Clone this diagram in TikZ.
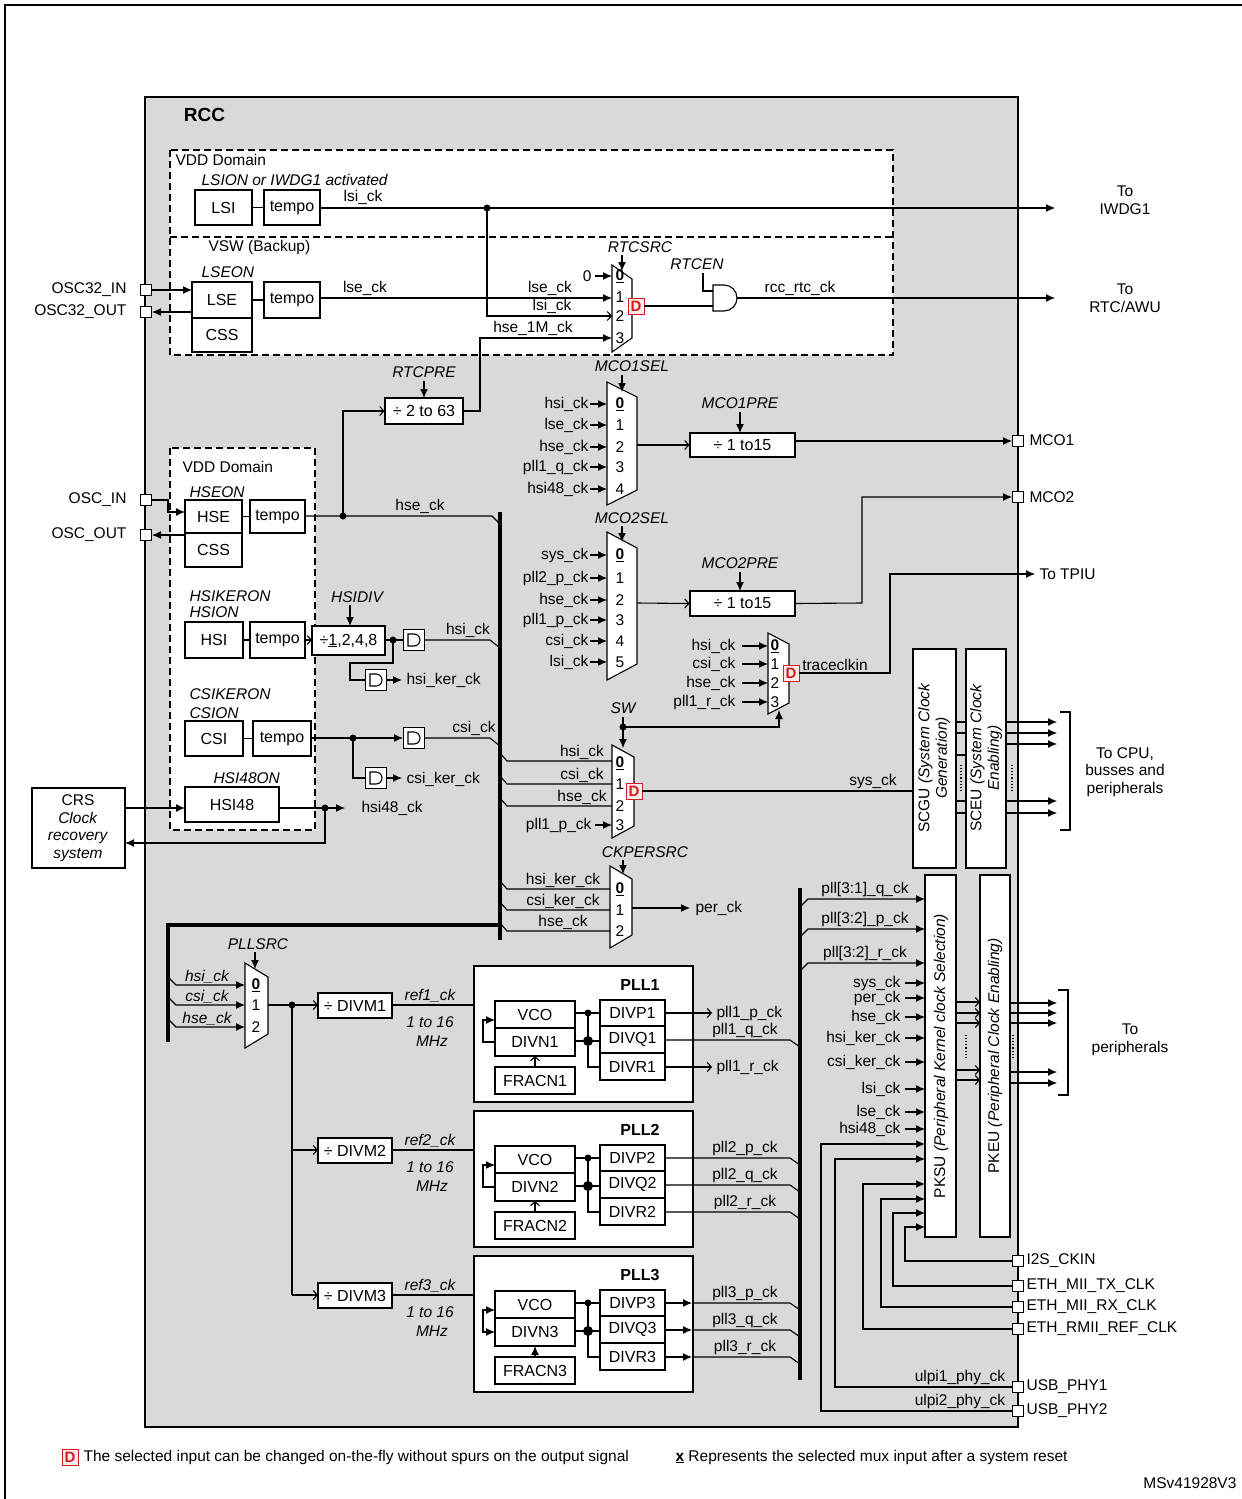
\documentclass[tikz,border=0pt]{standalone}
\usepackage{fontspec}
\setmainfont{Liberation Sans}
\usetikzlibrary{arrows.meta}
\definecolor{rccgray}{RGB}{217,217,217}
\definecolor{dred}{RGB}{210,30,30}
\newcommand\bx[6]{\node[bx,minimum width={(#4)-(#2)},minimum height={(#5)-(#3)}] (#1) at ({((#2)+(#4))/2},{((#3)+(#5))/2}) {#6};}
\newcommand\pinbox[3]{\node[draw,fill=white,minimum size=11pt,inner sep=0,line width=1pt] (#1) at (#2,#3) {};}
\newcommand\jdot[2]{\fill (#1,#2) circle (3.5);}
\newcommand\muxshape[5]{\draw[fill=white] (#1,#2)--({#1+#4},{#2+#5})--({#1+#4},{#3-#5})--(#1,#3)--cycle;}
\newcommand\gatesym[3]{\node[draw,fill=white,minimum size=21pt,inner sep=0] (#1) at (#2,#3) {};
 \draw ({#2-6},{#3-6})--(#2,{#3-6}) arc(-90:90:6)--({#2-6},{#3+6})--cycle;}
\newcommand\dbox[2]{\node[draw=dred,text=dred,fill=red!8,font=\fontsize{15}{15}\selectfont\bfseries,inner sep=0pt,minimum size=16pt,line width=1pt] at (#1,#2) {D};}
\begin{document}
\begin{tikzpicture}[x=1pt,y=-1pt,line width=1.1pt,
 bx/.style={draw,fill=white,inner sep=0,font=\fontsize{16}{18}\selectfont},
 lab/.style={font=\fontsize{15.5}{17.5}\selectfont,inner sep=1pt},
 ilab/.style={font=\fontsize{15.5}{17.5}\selectfont\itshape,inner sep=1pt},
 arr/.style={-{Latex[length=9pt,width=8pt]}},
 oarr/.style={-{Straight Barb[length=4pt,width=9pt]}},
 dsh/.style={dash pattern=on 7pt off 4pt},
 bus/.style={line width=4.5pt}]
\useasboundingbox (0,0) rectangle (1242,1499);
\fill[white] (0,0) rectangle (1242,1499);
\draw (5,1499)--(5,5)--(1242,5);
\draw[line width=2.5pt,fill=rccgray] (145,97) rectangle (1018,1427);
\node[font=\fontsize{19}{21}\selectfont\bfseries,anchor=west] (rcc) at (180,115) {RCC};
% ---------- top domains
\draw[dsh,fill=white] (170,150) rectangle (893,355);
\draw[dsh] (170,237)--(893,237);
\node[lab,anchor=west] (vdd1) at (174,160) {VDD Domain};
\node[ilab,anchor=west] (lsion) at (200,180) {LSION or IWDG1 activated};
\bx{lsi}{195}{190}{252}{225}{LSI}
\bx{tmp1}{264}{190}{320}{225}{tempo}
\draw (lsi)--(tmp1);
\coordinate (iwdg) at (1055,208);
\draw[arr] (320,208)--(iwdg);
\node[lab,anchor=south] (lsick1) at (363,206) {lsi\_ck};
\jdot{487}{208}
\node[lab,align=center] (toiwdg) at (1125,200) {To\\IWDG1};
\node[lab,anchor=west] (vsw) at (207,247) {VSW (Backup)};
\node[ilab,anchor=west] (lseon) at (200,272) {LSEON};
\bx{lse}{192}{282}{252}{318}{LSE}
\bx{css1}{192}{318}{252}{352}{CSS}
\bx{tmp2}{264}{282}{320}{318}{tempo}
\draw (lse)--(tmp2);
\pinbox{o32in}{146}{290}
\pinbox{o32out}{146}{312}
\node[lab,anchor=east] at (128,290) {OSC32\_IN};
\node[lab,anchor=east] at (128,312) {OSC32\_OUT};
\draw[arr] (o32in.east)--(192,290);
\draw[arr] (192,312)--(o32out.east);
% RTC mux
\muxshape{612}{265}{352}{20}{14}
\node[ilab] (rtcsrc) at (640,247) {RTCSRC};
\draw[arr] (622,255)--(622,271);
\node[lab] at (620,276) {\underline{\textbf{0}}};
\node[lab] at (620,297) {1};
\node[lab] at (620,316) {2};
\node[lab] at (620,338) {3};
\node[lab,anchor=east] at (593,276) {0};
\draw[arr] (595,276)--(612,276);
\draw[arr] (320,298)--(612,298);
\node[lab,anchor=south] at (365,297) {lse\_ck};
\node[lab,anchor=south] at (550,297) {lse\_ck};
\draw[oarr] (487,208)--(487,316)--(612,316);
\node[lab,anchor=south] at (552,315) {lsi\_ck};
\node[lab,anchor=south] at (533,337) {hse\_1M\_ck};
\dbox{636}{306}
\draw (644,306)--(713,306);
\node[ilab] (rtcen) at (697,264) {RTCEN};
\draw (703,273)--(703,291)--(713,291);
\draw[fill=white] (713,285)--(724,285) arc(-90:90:13)--(713,311)--cycle;
\coordinate (rtcawu) at (1055,298);
\draw[arr] (737,298)--(rtcawu);
\node[lab,anchor=south] at (800,297) {rcc\_rtc\_ck};
\node[lab,align=center] (tortc) at (1125,298) {To\\RTC/AWU};
% RTCPRE
\bx{div2}{385}{398}{463}{424}{÷ 2 to 63}
\node[ilab] at (424,372) {RTCPRE};
\draw[arr] (424,381)--(424,398);
\draw[arr] (div2.east)--(480,411)--(480,338)--(612,338);
\draw[oarr] (343,516)--(343,411)--(div2.west);
% MCO1
\node[ilab] at (632,366) {MCO1SEL};
\muxshape{607}{382}{505}{30}{15}
\draw[arr] (622,375)--(622,392);
\foreach \y/\t/\n in {404/hsi\_ck/\underline{\textbf{0}},425/lse\_ck/1,447/hse\_ck/2,467/pll1\_q\_ck/3,489/hsi48\_ck/4}{
 \node[lab,anchor=east] at (590,\y) {\t}; \draw[arr] (590,\y)--(607,\y); \node[lab] at (620,\y) {\n};}
\bx{pre1}{690}{433}{795}{457}{÷ 1 to15}
\draw[oarr] (637,445)--(pre1.west);
\node[ilab] at (740,403) {MCO1PRE};
\draw[arr] (740,412)--(740,433);
\pinbox{mco1}{1018}{441}
\draw[arr] (795,441)--(mco1.west);
\node[lab,anchor=west] at (1028,440) {MCO1};
% MCO2
\node[ilab] at (632,518) {MCO2SEL};
\muxshape{607}{532}{680}{30}{16}
\draw[arr] (622,526)--(622,542);
\foreach \y/\t/\n in {555/sys\_ck/\underline{\textbf{0}},578/pll2\_p\_ck/1,600/hse\_ck/2,620/pll1\_p\_ck/3,641/csi\_ck/4,662/lsi\_ck/5}{
 \node[lab,anchor=east] at (590,\y) {\t}; \draw[arr] (590,\y)--(607,\y); \node[lab] at (620,\y) {\n};}
\bx{pre2}{690}{591}{795}{616}{÷ 1 to15}
\draw[oarr] (637,603)--(pre2.west);
\node[ilab] at (740,563) {MCO2PRE};
\draw[arr] (740,572)--(740,591);
\pinbox{mco2}{1018}{497}
\draw[arr] (pre2.east)--(862,603)--(862,497)--(mco2.west);
\node[lab,anchor=west] at (1028,497) {MCO2};
% trace mux
\muxshape{768}{633}{714}{21}{11}
\foreach \y/\t/\n in {646/hsi\_ck/\underline{\textbf{0}},664/csi\_ck/1,683/hse\_ck/2,702/pll1\_r\_ck/3}{
 \node[lab,anchor=east] at (737,\y) {\t}; \draw[arr] (742,\y)--(768,\y); \node[lab] at (775,\y) {\n};}
\dbox{791}{673}
\node[lab,anchor=south] at (835,672) {traceclkin};
\coordinate (tpiu) at (1035,574);
\draw[arr] (799,673)--(890,673)--(890,574)--(tpiu);
\node[lab,anchor=west] at (1038,574) {To TPIU};
% SW mux
\node[ilab] at (623,708) {SW};
\draw (623,717)--(623,727);
\jdot{623}{727}
\draw[arr] (623,727)--(779,727)--(779,710);
\draw[arr] (623,727)--(623,748);
\muxshape{612}{745}{838}{22}{12}
\foreach \y/\t in {761/hsi\_ck,784/csi\_ck,806/hse\_ck}{
 \draw (500,\y-8)--(507,\y)--(612,\y); \node[lab,anchor=south] at (582,\y) {\t};}
\node[lab,anchor=east] at (593,825) {pll1\_p\_ck};
\draw[arr] (595,825)--(612,825);
\node[lab] at (620,763) {\underline{\textbf{0}}};
\node[lab] at (620,784) {1};
\node[lab] at (620,806) {2};
\node[lab] at (620,825) {3};
\dbox{634}{791}
\bx{scgu}{913}{649}{956}{868}{}
\bx{sceu}{966}{649}{1006}{868}{}
\node[rotate=90,align=center,lab] at (934,758) {SCGU \textit{(System Clock}\\\textit{Generation)}};
\node[rotate=90,align=center,lab] at (986,758) {SCEU \textit{(System Clock}\\\textit{Enabling)}};
\draw (642,791)--(scgu.west |- 0,791);
\node[lab,anchor=south] at (873,790) {sys\_ck};
\foreach \y in {722,733,755,801,813} \draw (956,\y)--(966,\y);
\draw[dotted] (961,765)--(961,792);
\draw[dotted] (1012,765)--(1012,792);
\foreach \y in {722,733,744,801,813} \draw[arr] (1006,\y)--(1057,\y);
\draw (1060,712)--(1070,712)--(1070,830)--(1060,830);
\node[lab,align=center] at (1125,772) {To CPU,\\busses and\\peripherals};
% CKPERSRC
\node[ilab] at (645,852) {CKPERSRC};
\draw[arr] (623,860)--(623,874);
\muxshape{610}{866}{948}{22}{13}
\foreach \y/\t/\n in {889/hsi\_ker\_ck/\underline{\textbf{0}},910/csi\_ker\_ck/1,931/hse\_ck/2}{
 \draw (500,\y-8)--(507,\y)--(610,\y); \node[lab,anchor=south] at (563,\y) {\t}; \node[lab] at (620,\y) {\n};}
\draw[arr] (632,908)--(690,908);
\node[lab,anchor=west] at (694,908) {per\_ck};
% HSE/HSI/CSI domain
\draw[dsh,fill=white] (170,448) rectangle (315,830);
\node[lab,anchor=west] at (181,467) {VDD Domain};
\node[ilab,anchor=west] at (188,492) {HSEON};
\bx{hse}{185}{500}{242}{533}{HSE}
\bx{css2}{185}{533}{242}{567}{CSS}
\bx{tmp3}{250}{500}{305}{533}{tempo}
\draw (hse)--(tmp3);
\pinbox{oscin}{146}{500}
\pinbox{oscout}{146}{535}
\node[lab,anchor=east] at (128,500) {OSC\_IN};
\node[lab,anchor=east] at (128,535) {OSC\_OUT};
\draw[arr] (oscin.east)--(168,500)--(168,512)--(185,512);
\draw[arr] (185,535)--(oscout.east);
\draw[bus] (500,512)--(500,940);
\draw (305,516)--(492,516)--(500,524);
\jdot{343}{516}
\node[lab,anchor=south] at (420,515) {hse\_ck};
\node[ilab,anchor=west] at (188,596) {HSIKERON};
\node[ilab,anchor=west] at (188,612) {HSION};
\bx{hsi}{185}{622}{243}{658}{HSI}
\bx{tmp4}{250}{622}{305}{658}{tempo}
\draw (hsi)--(tmp4);
\bx{hsidiv}{312}{626}{385}{655}{÷\underline{1},2,4,8}
\draw[oarr] (305,640)--(312,640);
\node[ilab] at (357,597) {HSIDIV};
\draw[arr] (350,605)--(350,626);
\gatesym{g1}{414}{640}
\draw (385,640)--(403,640);
\jdot{393}{640}
\draw (425,640)--(490,640)--(500,648);
\node[lab,anchor=south] at (468,639) {hsi\_ck};
\draw (393,640)--(393,663)--(350,663)--(350,680)--(365,680);
\gatesym{g2}{376}{680}
\draw[arr] (387,680)--(402,680);
\node[lab,anchor=west] at (405,680) {hsi\_ker\_ck};
\node[ilab,anchor=west] at (188,694) {CSIKERON};
\node[ilab,anchor=west] at (188,713) {CSION};
\bx{csi}{185}{721}{243}{756}{CSI}
\bx{tmp5}{253}{721}{311}{756}{tempo}
\draw (csi)--(tmp5);
\draw[arr] (311,738)--(403,738);
\jdot{353}{738}
\gatesym{g3}{414}{738}
\draw (425,738)--(490,738)--(500,746);
\node[lab,anchor=south] at (474,737) {csi\_ck};
\draw (353,738)--(353,778)--(365,778);
\gatesym{g4}{376}{778}
\draw[arr] (387,778)--(402,778);
\node[lab,anchor=west] at (405,779) {csi\_ker\_ck};
\node[ilab,anchor=west] at (212,778) {HSI48ON};
\bx{hsi48}{185}{787}{279}{822}{HSI48}
\bx{crs}{32}{788}{125}{868}{}
\node[lab,align=center] at (78,828) {CRS\\\textit{Clock}\\\textit{recovery}\\\textit{system}};
\draw[arr] (125,808)--(185,808);
\draw[arr] (279,808)--(345,808);
\jdot{325}{808}
\node[lab,anchor=west] at (360,808) {hsi48\_ck};
\draw[arr] (325,808)--(325,843)--(125,843);
% PLL source
\draw[bus] (500,925)--(168,925)--(168,1042);
\node[ilab] at (258,944) {PLLSRC};
\draw[arr] (255,952)--(255,969);
\muxshape{245}{963}{1048}{23}{14}
\foreach \y/\t/\n in {985/hsi\_ck/\underline{\textbf{0}},1005/csi\_ck/1,1027/hse\_ck/2}{
 \draw[arr] (168,\y-8)--(176,\y)--(245,\y); \node[ilab,anchor=south] at (207,\y) {\t}; \node[lab] at (256,\y) {\n};}
\draw (268,1005)--(292,1005);
\jdot{292}{1005}
\draw (292,1005)--(292,1295);
\foreach \k/\o in {1/0,2/145,3/290}{
 \bx{divm\k}{318}{993+\o}{392}{1018+\o}{÷ DIVM\k}
 \draw[oarr] (292,1005+\o)--(318,1005+\o);
 \node[ilab] at (430,996+\o) {ref\k\_ck};
 \node[ilab] at (430,1022+\o) {1 to 16};
 \node[ilab] at (432,1041+\o) {MHz};
 \draw[arr] (392,1005+\o)--(495,1005+\o);
 \bx{pll\k}{474}{966+\o}{693}{1102+\o}{}
 \node[font=\fontsize{16}{18}\selectfont\bfseries] at (640,985+\o) {PLL\k};
 \bx{vco\k}{495}{1001+\o}{575}{1028+\o}{VCO}
 \bx{divn\k}{495}{1028+\o}{575}{1056+\o}{DIVN\k}
 \bx{fracn\k}{495}{1067+\o}{575}{1094+\o}{FRACN\k}
 \bx{divp\k}{600}{1000+\o}{665}{1026+\o}{DIVP\k}
 \bx{divq\k}{600}{1026+\o}{665}{1053+\o}{DIVQ\k}
 \bx{divr\k}{600}{1053+\o}{665}{1080+\o}{DIVR\k}
 \draw (575,1013+\o)--(600,1013+\o);
 \draw (575,1041+\o)--(600,1041+\o);
 \fill (588,1013+\o) circle (3.5);
 \fill (588,1041+\o) circle (5);
 \draw (588,1013+\o)--(588,1067+\o)--(600,1067+\o);
}
\draw[arr] (495,1042)--(483,1042)--(483,1020)--(495,1020);
\draw[arr] (495,1187)--(483,1187)--(483,1165)--(495,1165);
\draw[{Latex[length=9pt,width=8pt]}-{Latex[length=9pt,width=8pt]}] (495,1332)--(483,1332)--(483,1310)--(495,1310);
\draw[oarr] (535,1067)--(535,1056);
\draw[oarr] (535,1212)--(535,1201);
\draw[arr] (535,1357)--(535,1346);
% PLL outputs
\draw[bus] (800,888)--(800,1380);
\draw[oarr] (665,1013)--(712,1013);
\node[lab,anchor=west] at (715,1013) {pll1\_p\_ck};
\draw (665,1040)--(790,1040)--(800,1047);
\node[lab,anchor=south] at (745,1039) {pll1\_q\_ck};
\draw[oarr] (665,1067)--(712,1067);
\node[lab,anchor=west] at (715,1067) {pll1\_r\_ck};
\foreach \y/\t in {1158/pll2\_p\_ck,1185/pll2\_q\_ck,1212/pll2\_r\_ck}{
 \draw (665,\y)--(790,\y)--(800,\y+7); \node[lab,anchor=south] at (745,\y-1) {\t};}
\foreach \y/\t in {1303/pll3\_p\_ck,1330/pll3\_q\_ck,1357/pll3\_r\_ck}{
 \draw[arr] (665,\y)--(692,\y); \draw (692,\y)--(790,\y)--(800,\y+7); \node[lab,anchor=south] at (745,\y-1) {\t};}
% PKSU / PKEU
\bx{pksu}{925}{875}{956}{1237}{}
\bx{pkeu}{980}{875}{1010}{1237}{}
\node[rotate=90,lab] at (941,1056) {PKSU \textit{(Peripheral Kernel clock Selection)}};
\node[rotate=90,lab] at (995,1056) {PKEU \textit{(Peripheral Clock Enabling)}};
\foreach \y/\t in {899/pll[3:1]\_q\_ck,929/pll[3:2]\_p\_ck,963/pll[3:2]\_r\_ck}{
 \draw[arr] (800,\y+8)--(808,\y)--(925,\y); \node[lab,anchor=south] at (865,\y-1) {\t};}
\foreach \y/\t in {983/sys\_ck,998/per\_ck,1017/hse\_ck,1038/hsi\_ker\_ck,1062/csi\_ker\_ck,1089/lsi\_ck,1112/lse\_ck,1129/hsi48\_ck}{
 \node[lab,anchor=east] at (902,\y) {\t}; \draw[arr] (905,\y)--(925,\y);}
\foreach \y in {1002,1013,1023,1070,1080} \draw[oarr] (956,\y)--(980,\y);
\draw[dotted] (966,1035)--(966,1058);
\draw[dotted] (1013,1035)--(1013,1058);
\foreach \y in {1003,1013,1023,1072,1083} \draw[arr] (1010,\y)--(1057,\y);
\draw (1058,990)--(1068,990)--(1068,1095)--(1058,1095);
\node[lab,align=center] at (1130,1040) {To\\peripherals};
% bottom pins
\foreach \n/\y/\x/\ya/\t in {i2s/1261/905/1227/I2S\_CKIN,tx/1286/893/1213/ETH\_MII\_TX\_CLK,rx/1307/881/1199/ETH\_MII\_RX\_CLK,rmii/1329/863/1184/ETH\_RMII\_REF\_CLK,usb1/1387/835/1159/USB\_PHY1,usb2/1411/821/1144/USB\_PHY2}{
 \pinbox{\n}{1018}{\y}
 \node[lab,anchor=west] at (1025,\y) {\t};
 \draw[arr] (\n.west)--(\x,\y)--(\x,\ya)--(925,\ya);}
\node[lab,anchor=south] at (960,1386) {ulpi1\_phy\_ck};
\node[lab,anchor=south] at (960,1410) {ulpi2\_phy\_ck};
% footer
\dbox{70}{1457}
\node[lab,anchor=west] at (82,1457) {The selected input can be changed on-the-fly without spurs on the output signal};
\node[lab,anchor=west] at (674,1457) {\underline{\textbf{x}} Represents the selected mux input after a system reset};
\node[lab,anchor=east] at (1238,1483) {MSv41928V3};
\end{tikzpicture}
\end{document}
